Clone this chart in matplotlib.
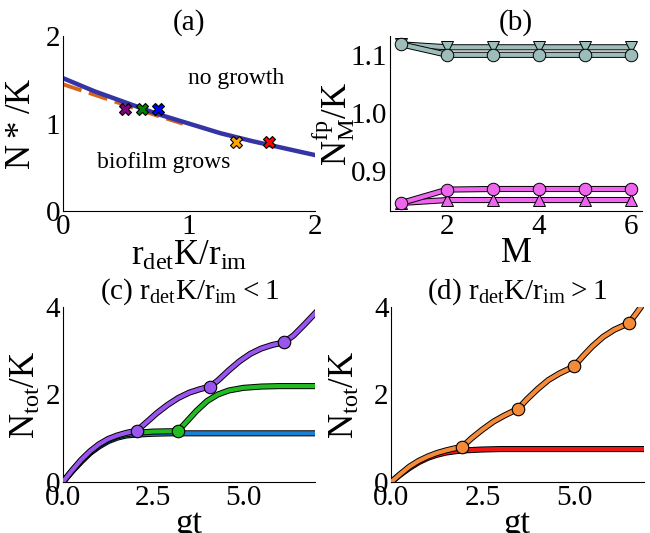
import matplotlib
matplotlib.use("Agg")
from matplotlib import pyplot as plt
import matplotlib.patheffects as pe

plt.rcParams['font.family'] = ['Liberation Serif', 'DejaVu Serif']
plt.rcParams['mathtext.default'] = 'regular'
plt.rcParams['font.size'] = 21

# (a) phase boundary
ra_x = [0, 0.25, 0.5, 0.75, 1.0, 1.25, 1.5, 1.75, 2.0]
ra_blue = [1.52, 1.37, 1.24, 1.11, 1.00, 0.89, 0.80, 0.72, 0.64]
ra_dash_x = [0, 0.25, 0.5, 0.75, 0.95]
ra_dash = [1.45, 1.33, 1.21, 1.09, 1.00]
pts_x = [0.49, 0.63, 0.75, 1.37, 1.63]
pts_y = [1.166, 1.166, 1.166, 0.79, 0.79]
pts_c = ['purple', 'green', 'blue', 'orange', 'red']

# (b) fixed points vs M
M = [1, 2, 3, 4, 5, 6]
grey_circ = [1.118, 1.100, 1.100, 1.100, 1.100, 1.100]
grey_tri = [1.118, 1.113, 1.113, 1.113, 1.113, 1.113]
pink_circ = [0.845, 0.868, 0.869, 0.869, 0.869, 0.869]
pink_tri = [0.845, 0.850, 0.850, 0.850, 0.850, 0.850]

# (c) time series, r_det K / r_im < 1
c_blue_t = [0, 0.25, 0.5, 0.75, 1.0, 1.25, 1.5, 1.75, 2.0, 2.5, 3.0, 4.0, 5.0, 6.0, 7.0]
c_blue = [0, 0.24, 0.46, 0.66, 0.81, 0.93, 1.01, 1.06, 1.08, 1.10, 1.11, 1.11, 1.11, 1.11, 1.11]
c_green_t = [0, 0.25, 0.5, 0.75, 1.0, 1.25, 1.5, 1.75, 2.0, 2.5, 3.19,
             3.4, 3.7, 4.0, 4.3, 4.6, 5.0, 5.5, 6.0, 7.0]
c_green = [0, 0.25, 0.48, 0.68, 0.84, 0.96, 1.04, 1.09, 1.12, 1.15, 1.16,
           1.35, 1.62, 1.85, 2.00, 2.09, 2.15, 2.18, 2.19, 2.19]
c_purple_t = [0, 0.25, 0.5, 0.75, 1.0, 1.25, 1.5, 1.75, 2.05,
              2.3, 2.6, 2.9, 3.2, 3.5, 3.8, 4.08,
              4.3, 4.6, 4.9, 5.2, 5.5, 5.8, 6.13,
              6.4, 6.7, 7.0]
c_purple = [0, 0.26, 0.50, 0.70, 0.86, 0.98, 1.06, 1.12, 1.17,
            1.35, 1.57, 1.76, 1.92, 2.04, 2.12, 2.18,
            2.32, 2.55, 2.76, 2.93, 3.05, 3.13, 3.19,
            3.35, 3.60, 3.86]
c_green_mk_t = [3.19]
c_green_mk = [1.16]
c_purple_mk_t = [2.05, 4.08, 6.13]
c_purple_mk = [1.17, 2.18, 3.19]

# (d) time series, r_det K / r_im > 1
d_red_t = [0, 0.25, 0.5, 0.75, 1.0, 1.25, 1.5, 1.75, 2.0, 2.5, 3.0, 7.0]
d_red = [0, 0.17, 0.32, 0.45, 0.55, 0.62, 0.67, 0.70, 0.72, 0.74, 0.75, 0.75]
d_orange_t = [0, 0.25, 0.5, 0.75, 1.0, 1.25, 1.5, 1.75, 1.94,
              2.2, 2.5, 2.8, 3.1, 3.47,
              3.7, 4.0, 4.3, 4.6, 5.0,
              5.25, 5.5, 5.8, 6.1, 6.5,
              6.7, 7.0]
d_orange = [0, 0.18, 0.35, 0.48, 0.58, 0.66, 0.72, 0.77, 0.80,
            1.00, 1.20, 1.38, 1.52, 1.67,
            1.88, 2.12, 2.33, 2.48, 2.64,
            2.88, 3.10, 3.32, 3.48, 3.63,
            3.85, 4.20]
d_mk_t = [1.94, 3.47, 5.0, 6.5]
d_mk = [0.80, 1.67, 2.64, 3.63]

outline = [pe.Stroke(linewidth=4.4, foreground='k'), pe.Normal()]
LAB = 25
TIT = 21


def style(ax):
    ax.spines['top'].set_visible(False)
    ax.spines['right'].set_visible(False)
    ax.tick_params(length=0, pad=2)


def line_mk(ax, x, y, color, marker):
    # line with black outline, markers drawn on top with thin edge
    ax.plot(x, y, color=color, lw=3, path_effects=outline, zorder=2)
    ax.plot(x, y, ls='none', marker=marker, color=color, ms=9, mec='k', mew=0.7, zorder=3)


fig = plt.figure(figsize=(6.5, 5.33), dpi=100)

# (a)
ax = fig.add_axes([0.097, 0.604, 0.388, 0.328])
ax.plot(ra_x, ra_blue, color='#3434a4', lw=3.2, zorder=2)
ax.plot(ra_dash_x, ra_dash, color='#d8641c', lw=2.8, ls=(0, (5, 2)), zorder=1)
for x, y, c in zip(pts_x, pts_y, pts_c):
    ax.plot(x, y, marker='X', color=c, ms=8, mec='k', mew=0.8, zorder=3)
ax.text(1.37, 1.52, 'no growth', ha='center', va='center', fontsize=17)
ax.text(0.8, 0.56, 'biofilm grows', ha='center', va='center', fontsize=17)
ax.set_xlim(0, 2)
ax.set_ylim(0, 2)
ax.set_xticks([0, 1, 2])
ax.set_yticks([0, 1, 2])
ax.set_xlabel(r'$r_{det}K/r_{im}$', fontsize=LAB, labelpad=0)
ax.set_ylabel(r'$N*/K$', fontsize=LAB)
ax.yaxis.set_label_coords(-0.10, 0.5)
ax.set_title('(a)', fontsize=TIT, pad=2)
style(ax)

# (b)
ax = fig.add_axes([0.600, 0.604, 0.388, 0.328])
line_mk(ax, M, grey_tri, '#9dbdba', 'v')
line_mk(ax, M, grey_circ, '#9dbdba', 'o')
line_mk(ax, M, pink_tri, '#ee66ee', '^')
line_mk(ax, M, pink_circ, '#ee66ee', 'o')
ax.set_ylim(0.831, 1.132)
ax.set_xlim(0.75, 6.25)
ax.set_xticks([2, 4, 6])
ax.set_yticks([0.9, 1.0, 1.1])
ax.set_yticklabels(['0.9', '1.0', '1.1'])
ax.set_xlabel('M', fontsize=LAB, labelpad=-2)
ax.set_ylabel(r'$N_M^{fp}/K$', fontsize=LAB)
ax.yaxis.set_label_coords(-0.13, 0.5)
ax.set_title('(b)', fontsize=TIT, pad=2)
style(ax)

# (c)
ax = fig.add_axes([0.097, 0.096, 0.388, 0.328])
ax.plot(c_blue_t, c_blue, color='#1a80d6', lw=3, path_effects=outline, zorder=2)
ax.plot(c_green_t, c_green, color='#22bb22', lw=3, path_effects=outline, zorder=3)
ax.plot(c_purple_t, c_purple, color='#9955ee', lw=3, path_effects=outline, zorder=4)
ax.plot(c_green_mk_t, c_green_mk, 'o', color='#22bb22', ms=9, mec='k', mew=0.8, zorder=5)
ax.plot(c_purple_mk_t, c_purple_mk, 'o', color='#9955ee', ms=9, mec='k', mew=0.8, zorder=5)
ax.set_xlim(0, 7)
ax.set_ylim(0, 4)
ax.set_xticks([0, 2.5, 5.0])
ax.set_xticklabels(['0.0', '2.5', '5.0'])
ax.set_yticks([0, 2, 4])
ax.set_xlabel('gt', fontsize=LAB, labelpad=-2)
ax.set_ylabel(r'$N_{tot}/K$', fontsize=LAB)
ax.yaxis.set_label_coords(-0.08, 0.5)
ax.set_title(r'(c) $r_{det}K/r_{im} < 1$', fontsize=TIT, pad=2)
style(ax)

# (d)
ax = fig.add_axes([0.602, 0.096, 0.388, 0.328])
ax.plot(d_red_t, d_red, color='#ee1515', lw=3, path_effects=outline, zorder=2)
ax.plot(d_orange_t, d_orange, color='#f58a38', lw=3, path_effects=outline, zorder=3)
ax.plot(d_mk_t, d_mk, 'o', color='#f58a38', ms=9, mec='k', mew=0.8, zorder=5)
ax.set_xlim(0, 6.9)
ax.set_ylim(0, 4)
ax.set_xticks([0, 2.5, 5.0])
ax.set_xticklabels(['0.0', '2.5', '5.0'])
ax.set_yticks([0, 2, 4])
ax.set_xlabel('gt', fontsize=LAB, labelpad=-2)
ax.set_ylabel(r'$N_{tot}/K$', fontsize=LAB)
ax.yaxis.set_label_coords(-0.115, 0.5)
ax.set_title(r'(d) $r_{det}K/r_{im} > 1$', fontsize=TIT, pad=2)
style(ax)

fig.savefig('out.png', dpi=100)
